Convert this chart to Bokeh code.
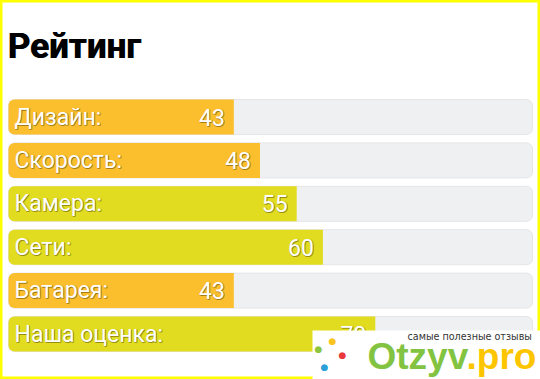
from bokeh.plotting import figure
from bokeh.models import Range1d, Label, BoxAnnotation
from bokeh.core.properties import value
from bokeh.embed import file_html
from bokeh.resources import INLINE

title_text = "Рейтинг"
categories = ["Дизайн:", "Скорость:", "Камера:", "Сети:", "Батарея:", "Наша оценка:"]
values = [43, 48, 55, 60, 43, 70]
bar_colors = ["#fbbe2c", "#fbbe2c", "#e1dc1f", "#e1dc1f", "#fbbe2c", "#e1dc1f"]
max_value = 100

W, H = 540, 379
px_per_unit = 5.24
left_px = 8
row_px = 43.4
first_row_px = 116.5
bar_px = 35

rows = list(range(len(categories)))

p = figure(width=W, height=H, output_backend="svg", toolbar_location=None,
           x_range=Range1d(-left_px / px_per_unit, (W - left_px) / px_per_unit),
           y_range=Range1d((H - first_row_px) / row_px, -first_row_px / row_px),
           x_axis_type=None, y_axis_type=None,
           min_border=0, min_border_left=0, min_border_right=0,
           min_border_top=0, min_border_bottom=0)
p.grid.visible = False
p.background_fill_color = "white"
p.border_fill_color = "white"
p.outline_line_color = "#ffff00"
p.outline_line_width = 4

bh = bar_px / row_px
p.hbar(y=rows, left=0, right=max_value, height=bh, fill_color="#eff0f2",
       line_color="#e4e5e8", line_width=1, border_radius=6)
p.hbar(y=rows, left=0, right=values, height=bh, fill_color=bar_colors,
       line_color=None, border_radius=(6, 0, 0, 6))

font = value("Roboto")
fs = value("23px")
# soft dark shadow under the white texts
for dx, dy in [(1, 1), (0, 1), (1, 0)]:
    p.text(x=[0] * len(rows), y=rows, text=categories, x_offset=7 + dx - 1, y_offset=dy,
           text_baseline="middle", text_color="#4a3c00", text_alpha=0.3,
           text_font=font, text_font_size=fs)
    p.text(x=values, y=rows, text=[str(v) for v in values], x_offset=-9 + dx, y_offset=dy,
           text_align="right", text_baseline="middle", text_color="#4a3c00", text_alpha=0.3,
           text_font=font, text_font_size=fs)
p.text(x=[0] * len(rows), y=rows, text=categories, x_offset=6,
       text_baseline="middle", text_color="white",
       text_font=font, text_font_size=fs)
p.text(x=values, y=rows, text=[str(v) for v in values], x_offset=-9,
       text_align="right", text_baseline="middle", text_color="white",
       text_font=font, text_font_size=fs)


def lab(text, x, baseline, size, color, font_name, style="normal"):
    p.add_layout(Label(x=x, y=H - baseline + 0.34 * size, x_units="screen", y_units="screen",
                       text=text, text_font=font_name, text_font_style=style,
                       text_font_size=f"{size}px", text_color=color,
                       text_baseline="alphabetic"))


# heavy title (drawn twice for a black-weight look)
lab(title_text, 7, 58, 35, "black", "Roboto", "bold")
lab(title_text, 7.8, 58, 35, "black", "Roboto", "bold")

# watermark overlay
p.add_layout(BoxAnnotation(left=312, right=W, bottom=0, top=H - 330,
                           left_units="screen", right_units="screen",
                           top_units="screen", bottom_units="screen",
                           fill_color="white", fill_alpha=1, line_color=None))
lab("самые полезные отзывы", 407, 339, 9.6, "#333333", "DejaVu Sans")
lab("Otzyv", 367, 369, 37, "#82c341", "Liberation Sans", "bold")
lab(".pro", 466, 369, 37, "#fcc500", "Liberation Sans", "bold")
lab("●", 328, 344, 9, "#f7c51e", "DejaVu Sans")
lab("●", 314, 352, 9, "#8cc63f", "DejaVu Sans")
lab("●", 338, 358, 9, "#e8383d", "DejaVu Sans")
lab("●", 320, 370, 9, "#2a9fd8", "DejaVu Sans")

open("out.html", "w").write(file_html(p, INLINE))
